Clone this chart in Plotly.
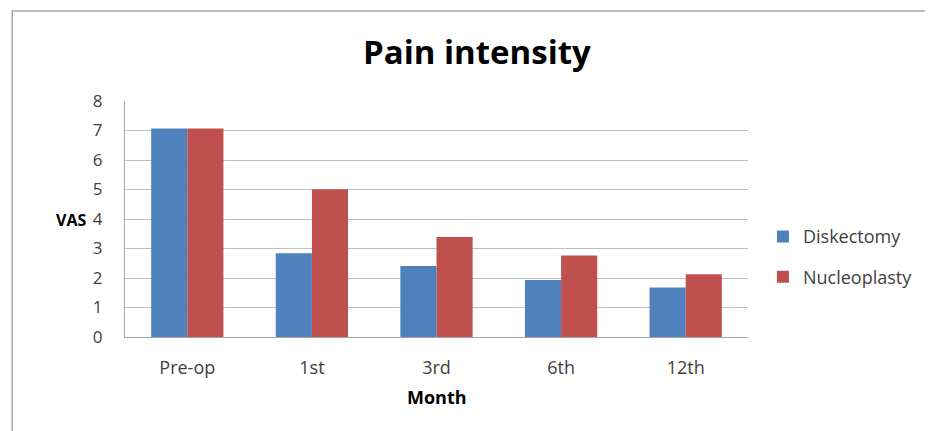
import plotly.graph_objects as go

months = ["Pre-op", "1st", "3rd", "6th", "12th"]
diskectomy = [7.07, 2.84, 2.41, 1.93, 1.68]
nucleoplasty = [7.07, 5.01, 3.39, 2.76, 2.13]
y_ticks = [0, 1, 2, 3, 4, 5, 6, 7, 8]

FONT = "'Open Sans', sans-serif"

fig = go.Figure()
fig.add_trace(go.Bar(name="Diskectomy", x=months, y=diskectomy, legendgroup="a",
                     marker=dict(color="#4F81BD", line=dict(width=0))))
fig.add_trace(go.Bar(name="Nucleoplasty", x=months, y=nucleoplasty, legendgroup="b",
                     marker=dict(color="#C0504D", line=dict(width=0))))

fig.update_layout(
    width=925, height=423,
    paper_bgcolor="white", plot_bgcolor="white",
    margin=dict(l=117, r=185, t=93, b=94),
    barmode="group", bargap=0.42, bargroupgap=0,
    font=dict(family=FONT, color="#404040", size=16),
    title=dict(text="<b>Pain intensity</b>", x=0.507, xanchor="center", xref="container",
               y=0.896, yanchor="middle", yref="container",
               font=dict(size=33, color="black", family=FONT)),
    legend=dict(x=1.024, xanchor="left", y=0.34, yanchor="middle",
                font=dict(size=18, color="#404040"), tracegroupgap=14,
                itemwidth=30, bgcolor="rgba(0,0,0,0)"),
    xaxis=dict(showline=True, linecolor="#A6A6A6", linewidth=1,
               ticks="", ticklabelstandoff=14, tickfont=dict(size=18, color="#404040")),
    yaxis=dict(range=[0, 8], tickvals=y_ticks, showgrid=True, gridcolor="#BFBFBF",
               gridwidth=1, showline=True, linecolor="#A6A6A6", linewidth=1,
               ticks="", ticklabelstandoff=18, tickfont=dict(size=17, color="#404040"),
               zeroline=False),
    shapes=[dict(type="rect", xref="paper", yref="paper",
                 x0=-0.181, x1=1.35, y0=-0.5, y1=1.381,
                 line=dict(color="#A6A6A6", width=1.5), fillcolor="rgba(0,0,0,0)",
                 layer="below")],
    annotations=[
        dict(text="<b>VAS</b>", xref="paper", yref="paper",
             x=-0.059, y=0.496, xanchor="right", yanchor="middle", showarrow=False,
             font=dict(size=16, color="black", family=FONT)),
        dict(text="<b>Month</b>", xref="paper", yref="paper",
             x=0.5, y=0, xanchor="center", yanchor="middle", yshift=-60, showarrow=False,
             font=dict(size=18, color="black", family=FONT)),
    ],
)

fig.write_html("out.html")
